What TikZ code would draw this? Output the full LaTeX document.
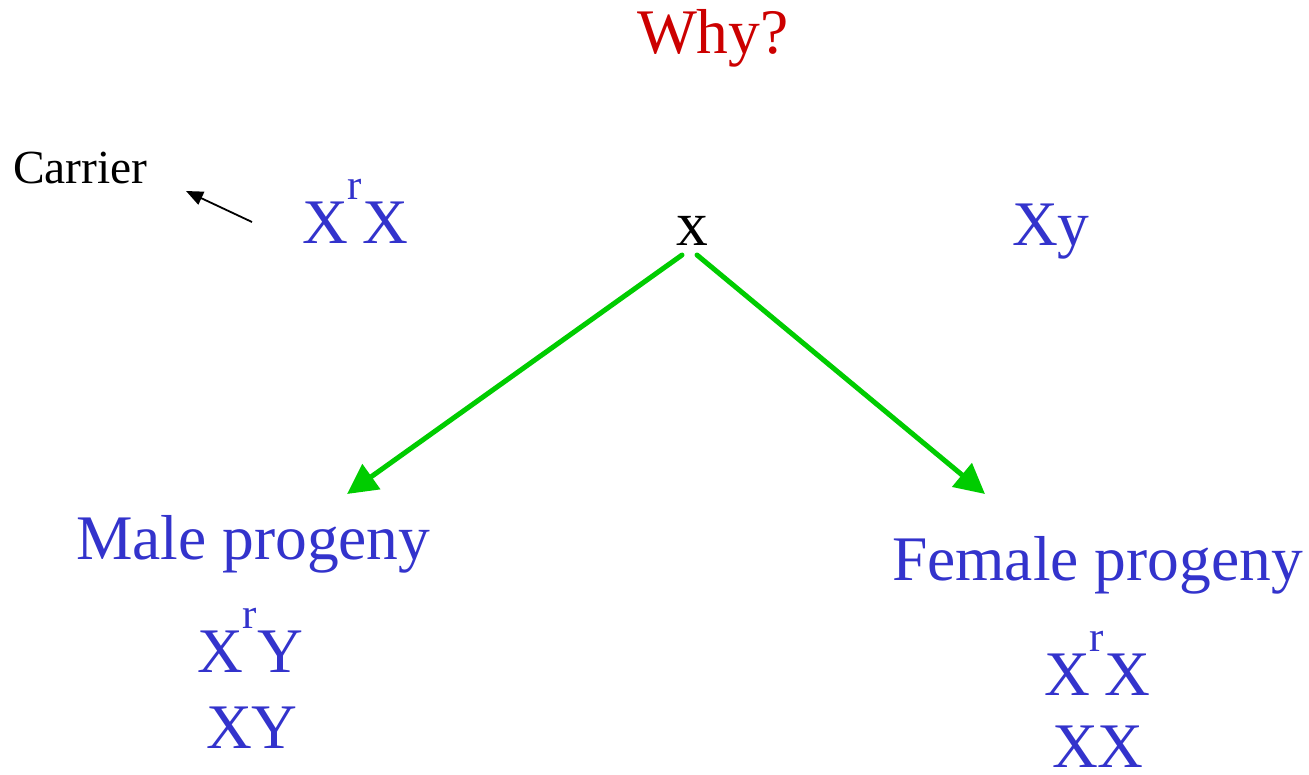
\documentclass[tikz,border=0pt]{standalone}
\usepackage{fontspec}
\setmainfont{Liberation Serif}
\usetikzlibrary{arrows.meta}
\definecolor{gblue}{HTML}{3333CC}
\definecolor{gred}{HTML}{CC0000}
\definecolor{ggreen}{HTML}{00CC00}
\newcommand{\bigtxt}{\fontsize{63.5}{70}\selectfont}
\newcommand{\supr}{\raisebox{44pt}{\fontsize{43}{48}\selectfont r}}
\tikzset{
  lbl/.style={inner sep=0pt, outer sep=0pt, anchor=base west, font=\bigtxt},
  geno/.style={lbl, text=gblue},
  cross/.style={draw=ggreen, line width=5pt, line cap=round, -{Triangle[length=30pt,width=30pt]}},
  pointer/.style={draw=black, line width=1.8pt, -{Triangle[length=17pt,width=14pt]}}
}
\begin{document}
\begin{tikzpicture}[x=1pt,y=-1pt]
\useasboundingbox (0,0) rectangle (1309,774);
\node[lbl, text=gred] (why) at (637,53) {Why?};
\node[lbl, font=\fontsize{47.5}{52}\selectfont] (carrier) at (13,183) {Carrier};
\node[geno] (mother) at (302,243) {X\supr X};
\node[lbl, anchor=base] (cross) at (692,245) {x};
\node[geno] (father) at (1012,245) {Xy};
\node[geno] (male) at (76,559) {Male progeny};
\node[geno] (female) at (892,580) {Female progeny};
\node[geno] (m1) at (197,672) {X\supr Y};
\node[geno] (m2) at (206,748) {XY};
\node[geno] (f1) at (1044,695) {X\supr X};
\node[geno] (f2) at (1052,767) {XX};
\coordinate (cl) at (682,255);
\coordinate (cr) at (697,255);
\coordinate (ml) at (347,494);
\coordinate (fr) at (985,494);
\coordinate (ptail) at (252,222);
\coordinate (phead) at (186,191);
\draw[cross] (cl) -- (ml);
\draw[cross] (cr) -- (fr);
\draw[pointer] (ptail) -- (phead);
\end{tikzpicture}
\end{document}
